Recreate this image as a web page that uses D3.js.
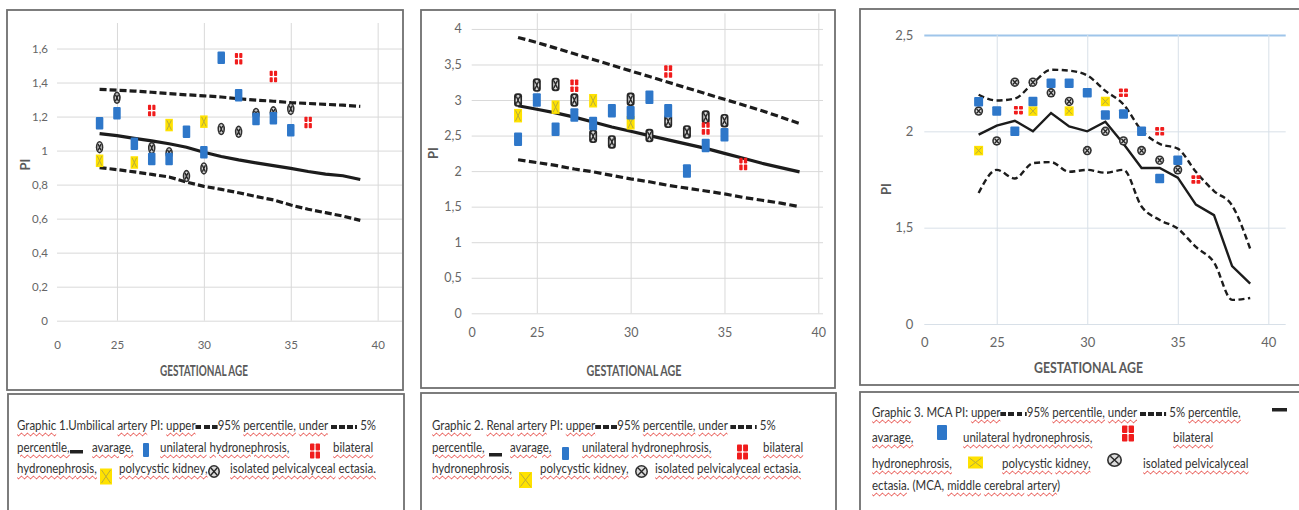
<!DOCTYPE html>
<html>
<head>
<meta charset="utf-8">
<script src="https://cdn.jsdelivr.net/npm/d3@7"></script>
<style>
  body { margin: 0; background: #fff; width: 1299px; height: 510px; overflow: hidden; position: relative;
         font-family: Lato, "Liberation Sans", sans-serif; }
  svg { position: absolute; left: 0; top: 0; }
  .cap { position: absolute; white-space: nowrap; font-size: 13.5px; line-height: 16px; color: #333;
         transform-origin: 0 0; transform: scaleX(0.85); }
  .u { text-decoration: underline wavy #e2312b; text-decoration-thickness: 1px; text-underline-offset: 2px; }
  .dash { display: inline-block; height: 4px; vertical-align: 1px;
          background: repeating-linear-gradient(90deg, #222 0 7px, transparent 7px 9.5px); }
</style>
</head>
<body>
<script>
// gestational weeks used by the reference curves
var weeks = [24, 25, 26, 27, 28, 29, 30, 31, 32, 33, 34, 35, 36, 37, 38, 39];
var xLabels = ["0", "25", "30", "35", "40"];

// Graphic 1 - umbilical artery PI
var umbUpper = [1.36, 1.355, 1.35, 1.343, 1.335, 1.328, 1.322, 1.315, 1.305, 1.297, 1.29, 1.282, 1.277, 1.272, 1.267, 1.26];
var umbMean  = [1.10, 1.088, 1.072, 1.057, 1.04, 1.02, 0.99, 0.965, 0.945, 0.928, 0.912, 0.895, 0.877, 0.862, 0.852, 0.83];
var umbLower = [0.90, 0.888, 0.875, 0.86, 0.845, 0.815, 0.79, 0.772, 0.752, 0.73, 0.71, 0.68, 0.655, 0.635, 0.615, 0.59];
var umbUni  = [[24, 1.16], [25, 1.22], [26, 1.04], [27, 0.95], [28, 0.95], [29, 1.11], [30, 0.99], [31, 1.545], [32, 1.325], [33, 1.185], [34, 1.19], [35, 1.12]];
var umbBi   = [[27, 1.235], [32, 1.54], [34, 1.435], [36, 1.165]];
var umbPoly = [[24, 0.94], [26, 0.93], [28, 1.15], [30, 1.17]];
var umbIso  = [[24, 1.02], [25, 1.31], [27, 1.015], [28, 0.985], [29, 0.85], [30, 0.895], [31, 1.127], [32, 1.11], [33, 1.215], [34, 1.225], [35, 1.245]];
var umbYTicks  = [0, 0.2, 0.4, 0.6, 0.8, 1, 1.2, 1.4, 1.6];
var umbYLabels = ["0", "0,2", "0,4", "0,6", "0,8", "1", "1,2", "1,4", "1,6"];

// Graphic 2 - renal artery PI
var renUpper = [3.88, 3.81, 3.73, 3.65, 3.57, 3.49, 3.41, 3.33, 3.25, 3.17, 3.09, 3.01, 2.93, 2.85, 2.76, 2.67];
var renMean  = [2.92, 2.87, 2.82, 2.76, 2.69, 2.62, 2.56, 2.50, 2.44, 2.38, 2.32, 2.25, 2.18, 2.11, 2.05, 1.99];
var renLower = [2.16, 2.12, 2.08, 2.03, 1.99, 1.94, 1.89, 1.85, 1.80, 1.76, 1.72, 1.68, 1.63, 1.59, 1.55, 1.50];
var renUni  = [[24, 2.45], [25, 3.0], [26, 2.59], [27, 2.79], [28, 2.67], [29, 2.85], [30, 2.82], [31, 3.04], [32, 2.85], [33, 2.0], [34, 2.36], [35, 2.51]];
var renBi   = [[27, 3.2], [32, 3.4], [34, 2.6], [36, 2.1]];
var renPoly = [[24, 2.78], [26, 2.9], [28, 2.99], [30, 2.68]];
var renIso  = [[24, 3.0], [25, 3.21], [26, 3.22], [27, 3.0], [28, 2.49], [29, 2.41], [30, 3.01], [31, 2.5], [32, 2.70], [33, 2.55], [34, 2.76], [35, 2.71]];
var renYTicks  = [0, 0.5, 1, 1.5, 2, 2.5, 3, 3.5, 4];
var renYLabels = ["0", "0,5", "1", "1,5", "2", "2,5", "3", "3,5", "4"];

// Graphic 3 - MCA PI
var mcaUpper = [2.19, 2.16, 2.17, 2.25, 2.32, 2.315, 2.29, 2.21, 2.14, 2.005, 1.935, 1.91, 1.79, 1.69, 1.615, 1.39];
var mcaMean  = [1.983, 2.03, 2.055, 2.0, 2.095, 2.025, 2.0, 2.05, 1.935, 1.81, 1.81, 1.76, 1.62, 1.565, 1.30, 1.21];
var mcaLower = [1.68, 1.80, 1.755, 1.835, 1.84, 1.79, 1.80, 1.785, 1.80, 1.61, 1.54, 1.495, 1.40, 1.32, 1.125, 1.135];
var mcaUni  = [[24, 2.154], [25, 2.105], [26, 2.0], [27, 2.155], [28, 2.25], [29, 2.25], [30, 2.20], [31, 2.085], [32, 2.09], [33, 2.0], [34, 1.755], [35, 1.85]];
var mcaBi   = [[26.2, 2.11], [32, 2.20], [34, 2.0], [36, 1.75]];
var mcaPoly = [[24, 1.90], [27, 2.105], [29, 2.105], [31, 2.155]];
var mcaIso  = [[24, 2.105], [25, 1.95], [26, 2.255], [27, 2.255], [28, 2.20], [29, 2.155], [30, 1.90], [31, 2.0], [32, 1.95], [33, 1.90], [34, 1.85], [35, 1.80]];
var mcaYTicks  = [1, 1.5, 2, 2.5];
var mcaYLabels = ["0", "1,5", "2", "2,5"];

var svg = d3.select("body").append("svg").attr("width", 1299).attr("height", 510);

// ---------- marker shapes ----------
function marker(g, type, cx, cy, w, h, iso) {
  if (type == "uni") {
    g.append("rect").attr("x", cx - w / 2).attr("y", cy - h / 2).attr("width", w).attr("height", h)
      .attr("rx", 1).attr("fill", "#2e77c9");
  } else if (type == "bi") {
    var qw = (w - 1.2) / 2, qh = (h - 1.2) / 2;
    [[0, 0], [1, 0], [0, 1], [1, 1]].forEach(function (q) {
      g.append("rect").attr("x", cx - w / 2 + q[0] * (qw + 1.2)).attr("y", cy - h / 2 + q[1] * (qh + 1.2))
        .attr("width", qw).attr("height", qh).attr("rx", 0.8).attr("fill", "#f01c1c");
    });
  } else if (type == "poly") {
    g.append("rect").attr("x", cx - w / 2).attr("y", cy - h / 2).attr("width", w).attr("height", h).attr("fill", "#ffe200");
    g.append("path").attr("d", `M${cx - w / 2 + 1.5},${cy - h / 2 + 1.5}L${cx + w / 2 - 1.5},${cy + h / 2 - 1.5}M${cx + w / 2 - 1.5},${cy - h / 2 + 1.5}L${cx - w / 2 + 1.5},${cy + h / 2 - 1.5}`)
      .attr("stroke", "#b9ad3a").attr("stroke-width", 1);
  } else if (type == "iso") {
    if (iso == "rect") {
      g.append("rect").attr("x", cx - w / 2).attr("y", cy - h / 2).attr("width", w).attr("height", h).attr("rx", 3).attr("fill", "#262626");
    } else {
      g.append("ellipse").attr("cx", cx).attr("cy", cy).attr("rx", w / 2).attr("ry", h / 2).attr("fill", "#303030");
    }
    g.append("ellipse").attr("cx", cx).attr("cy", cy).attr("rx", w / 2 - 1.6).attr("ry", h / 2 - 1.6).attr("fill", "#dcdcdc");
    var dx = (w / 2 - 1.6) * 0.7, dy = (h / 2 - 1.6) * 0.7;
    g.append("path").attr("d", `M${cx - dx},${cy - dy}L${cx + dx},${cy + dy}M${cx + dx},${cy - dy}L${cx - dx},${cy + dy}`)
      .attr("stroke", "#262626").attr("stroke-width", 1.4);
  }
}

// ---------- one chart panel ----------
function drawPanel(p) {
  var g = svg.append("g");
  g.append("rect").attr("x", p.box[0]).attr("y", p.box[1]).attr("width", p.box[2]).attr("height", p.box[3])
    .attr("fill", "#fff").attr("stroke", "#6f6f6f").attr("stroke-width", 1.8);

  var x = d3.scaleLinear().domain(p.xDom).range([p.left, p.right]);
  var y = d3.scaleLinear().domain(p.yDom).range([p.bottom, p.top]);

  var yAxis = d3.axisLeft(y).tickValues(p.yTicks).tickSize(-(p.right - p.left)).tickPadding(p.yPad)
    .tickFormat(function (d, i) { return p.yLabels[i]; });
  var ya = g.append("g").attr("transform", `translate(${p.left},0)`).call(yAxis);
  ya.select(".domain").remove();
  ya.selectAll("line").attr("stroke", p.grid);
  ya.selectAll("text").attr("fill", "#666").attr("font-size", p.fs).attr("font-family", "Lato, sans-serif");

  var xTicks = [p.xDom[0], 25, 30, 35, 40];
  var xAxis = d3.axisBottom(x).tickValues(xTicks).tickSize(-(p.bottom - p.top)).tickPadding(p.xPad)
    .tickFormat(function (d, i) { return xLabels[i]; });
  var xa = g.append("g").attr("transform", `translate(0,${p.bottom})`).call(xAxis);
  xa.select(".domain").remove();
  xa.selectAll("line").attr("stroke", function (d, i) { return i == 0 ? "none" : p.grid; });
  xa.selectAll("text").attr("fill", "#666").attr("font-size", p.fs).attr("font-family", "Lato, sans-serif");

  if (p.topLine) {
    ya.selectAll(".tick").filter(function (d) { return d == p.yDom[1]; }).select("line")
      .attr("stroke", p.topLine).attr("stroke-width", 2.2);
  }

  // axis titles
  g.append("text").attr("x", p.title[0]).attr("y", p.title[1]).attr("text-anchor", "middle")
    .attr("font-family", "Lato, sans-serif").attr("font-weight", "bold").attr("font-size", 15)
    .attr("fill", "#5a5a5a").attr("textLength", p.title[2]).attr("lengthAdjust", "spacingAndGlyphs")
    .text("GESTATIONAL AGE");
  g.append("text").attr("transform", `translate(${p.pi[0]},${p.pi[1]}) rotate(-90)`).attr("text-anchor", "middle")
    .attr("font-family", "Lato, sans-serif").attr("font-weight", "bold").attr("font-size", 13)
    .attr("fill", "#5a5a5a").text("PI");

  // percentile and mean curves
  var line = d3.line().x(function (d, i) { return x(weeks[i]); }).y(function (d) { return y(d); }).curve(p.curve);
  var meanLine = d3.line().x(function (d, i) { return x(weeks[i]); }).y(function (d) { return y(d); });
  [p.upper, p.lower].forEach(function (s) {
    g.append("path").attr("d", line(s)).attr("fill", "none").attr("stroke", "#1c1c1c")
      .attr("stroke-width", p.lw).attr("stroke-dasharray", p.dash);
  });
  g.append("path").attr("d", meanLine(p.mean)).attr("fill", "none").attr("stroke", "#1c1c1c").attr("stroke-width", p.lw);

  // scatter points
  var m = g.append("g");
  p.iso.forEach(function (d) { marker(m, "iso", x(d[0]), y(d[1]), p.mk[0], p.mk[1], p.isoShape); });
  p.poly.forEach(function (d) { marker(m, "poly", x(d[0]), y(d[1]), p.mk[0], p.mk[1]); });
  p.uni.forEach(function (d) { marker(m, "uni", x(d[0]), y(d[1]), p.mk[0], p.mk[1]); });
  p.bi.forEach(function (d) { marker(m, "bi", x(d[0]), y(d[1]), p.mk[0], p.mk[1] - 1); });

  // caption box
  g.append("rect").attr("x", p.cap[0]).attr("y", p.cap[1]).attr("width", p.cap[2]).attr("height", 140)
    .attr("fill", "#fff").attr("stroke", "#6f6f6f").attr("stroke-width", 1.8);
}

drawPanel({
  box: [7, 10, 396, 380], cap: [8, 394, 396],
  left: 57, right: 402, top: 23, bottom: 320.7, xDom: [21.55, 41.4], yDom: [0, 1.75],
  yTicks: umbYTicks, yLabels: umbYLabels, yPad: 9, xPad: 20, fs: 11.5, grid: "#d9d9d9",
  title: [204, 376, 88], pi: [30, 164.5],
  upper: umbUpper, mean: umbMean, lower: umbLower, curve: d3.curveLinear, lw: 3.2, dash: "7,3",
  uni: umbUni, bi: umbBi, poly: umbPoly, iso: umbIso, mk: [7.5, 12.5], isoShape: "ellipse"
});
drawPanel({
  box: [421, 10, 414, 378], cap: [421, 393, 415],
  left: 471.7, right: 823, top: 13.3, bottom: 313.3, xDom: [21.53, 40.25], yDom: [0, 4.22],
  yTicks: renYTicks, yLabels: renYLabels, yPad: 10, xPad: 15, fs: 12.5, grid: "#d9d9d9",
  title: [634, 376, 95], pi: [438, 153],
  upper: renUpper, mean: renMean, lower: renLower, curve: d3.curveLinear, lw: 3.2, dash: "7.5,3.5",
  uni: renUni, bi: renBi, poly: renPoly, iso: renIso, mk: [8, 13.5], isoShape: "rect"
});
drawPanel({
  box: [860, 9, 460, 376], cap: [860, 392, 460],
  left: 924.3, right: 1285.7, top: 35, bottom: 324, xDom: [21.0, 40.96], yDom: [1, 2.5],
  yTicks: mcaYTicks, yLabels: mcaYLabels, yPad: 11, xPad: 14, fs: 13, grid: "#d8e0e8", topLine: "#9fc5ea",
  title: [1088.5, 373, 109], pi: [891, 189],
  upper: mcaUpper, mean: mcaMean, lower: mcaLower, curve: d3.curveMonotoneX, lw: 2.4, dash: "6,3.5",
  uni: mcaUni, bi: mcaBi, poly: mcaPoly, iso: mcaIso, mk: [9, 9.5], isoShape: "ellipse"
});

// ---------- captions ----------
function caption(chunks) {
  chunks.forEach(function (c) {
    var html = c[2].replace(/~([^~]+)~/g, '<span class="u">$1</span>')
      .replace(/\{d\}/g, '<span class="dash" style="width:26px"></span>')
      .replace(/\{D\}/g, '<span class="dash" style="width:31px"></span>');
    d3.select("body").append("div").attr("class", "cap")
      .style("left", c[0] + "px").style("top", (c[1] - 13) + "px")
      .html(html);
  });
}

// Graphic 1
caption([
  [17, 430, "~Graphic~ 1.Umbilical ~artery~ PI: ~upper~{d}95% ~percentile,~ ~under~ {D} 5%"],
  [17, 451.5, "~percentile,~"], [92, 451.5, "~avarage,~"], [160, 451.5, "~unilateral~ ~hydronephrosis,~"], [333, 451.5, "~bilateral~"],
  [17, 473, "~hydronephrosis,~"], [119, 473, "~polycystic~ ~kidney,~"], [230, 473, "~isolated~ ~pelvicalyceal~ ~ectasia.~"]
]);
svg.append("rect").attr("x", 70).attr("y", 450).attr("width", 13).attr("height", 3.5).attr("fill", "#222");
marker(svg, "uni", 146, 450, 6, 14);
marker(svg, "bi", 315, 451, 10, 15);
marker(svg, "poly", 106, 476.5, 12, 16);
marker(svg, "iso", 214, 471.5, 12, 13);

// Graphic 2
caption([
  [432, 430, "~Graphic~ 2. ~Renal~ ~artery~ PI: ~upper~{d}95% ~percentile,~ ~under~ {D} 5%"],
  [432, 451.5, "~percentile,~"], [510, 451.5, "~avarage,~"], [582, 451.5, "~unilateral~ ~hydronephrosis,~"], [763, 451.5, "~bilateral~"],
  [432, 473, "~hydronephrosis,~"], [540, 473, "~polycystic~ ~kidney,~"], [655, 473, "~isolated~ ~pelvicalyceal~ ~ectasia.~"]
]);
svg.append("rect").attr("x", 489).attr("y", 453).attr("width", 13).attr("height", 3.5).attr("fill", "#222");
marker(svg, "uni", 565.5, 453.5, 7, 13);
marker(svg, "bi", 742.5, 452, 11, 15);
marker(svg, "poly", 525.5, 480, 13, 16);
marker(svg, "iso", 641.5, 471.5, 13, 13);

// Graphic 3
caption([
  [872, 417, "~Graphic~ 3. MCA PI: ~upper~{D}95% ~percentile,~ ~under~ {D} 5% ~percentile,~"],
  [872, 442, "~avarage,~"], [963, 442, "~unilateral~ ~hydronephrosis,~"], [1173, 442, "~bilateral~"],
  [872, 468, "~hydronephrosis,~"], [1002, 468, "~polycystic~ ~kidney,~"], [1143, 468, "~isolated~ ~pelvicalyceal~"],
  [872, 490, "~ectasia~. (MCA, ~middle~ ~cerebral~ ~artery~)"]
]);
svg.append("rect").attr("x", 1272).attr("y", 408).attr("width", 15).attr("height", 3.5).attr("fill", "#222");
marker(svg, "uni", 942, 432.5, 10, 15);
marker(svg, "bi", 1128, 433.5, 12, 16);
marker(svg, "poly", 975.5, 462.5, 15, 12);
marker(svg, "iso", 1114.5, 460, 15, 14);
</script>
</body>
</html>
